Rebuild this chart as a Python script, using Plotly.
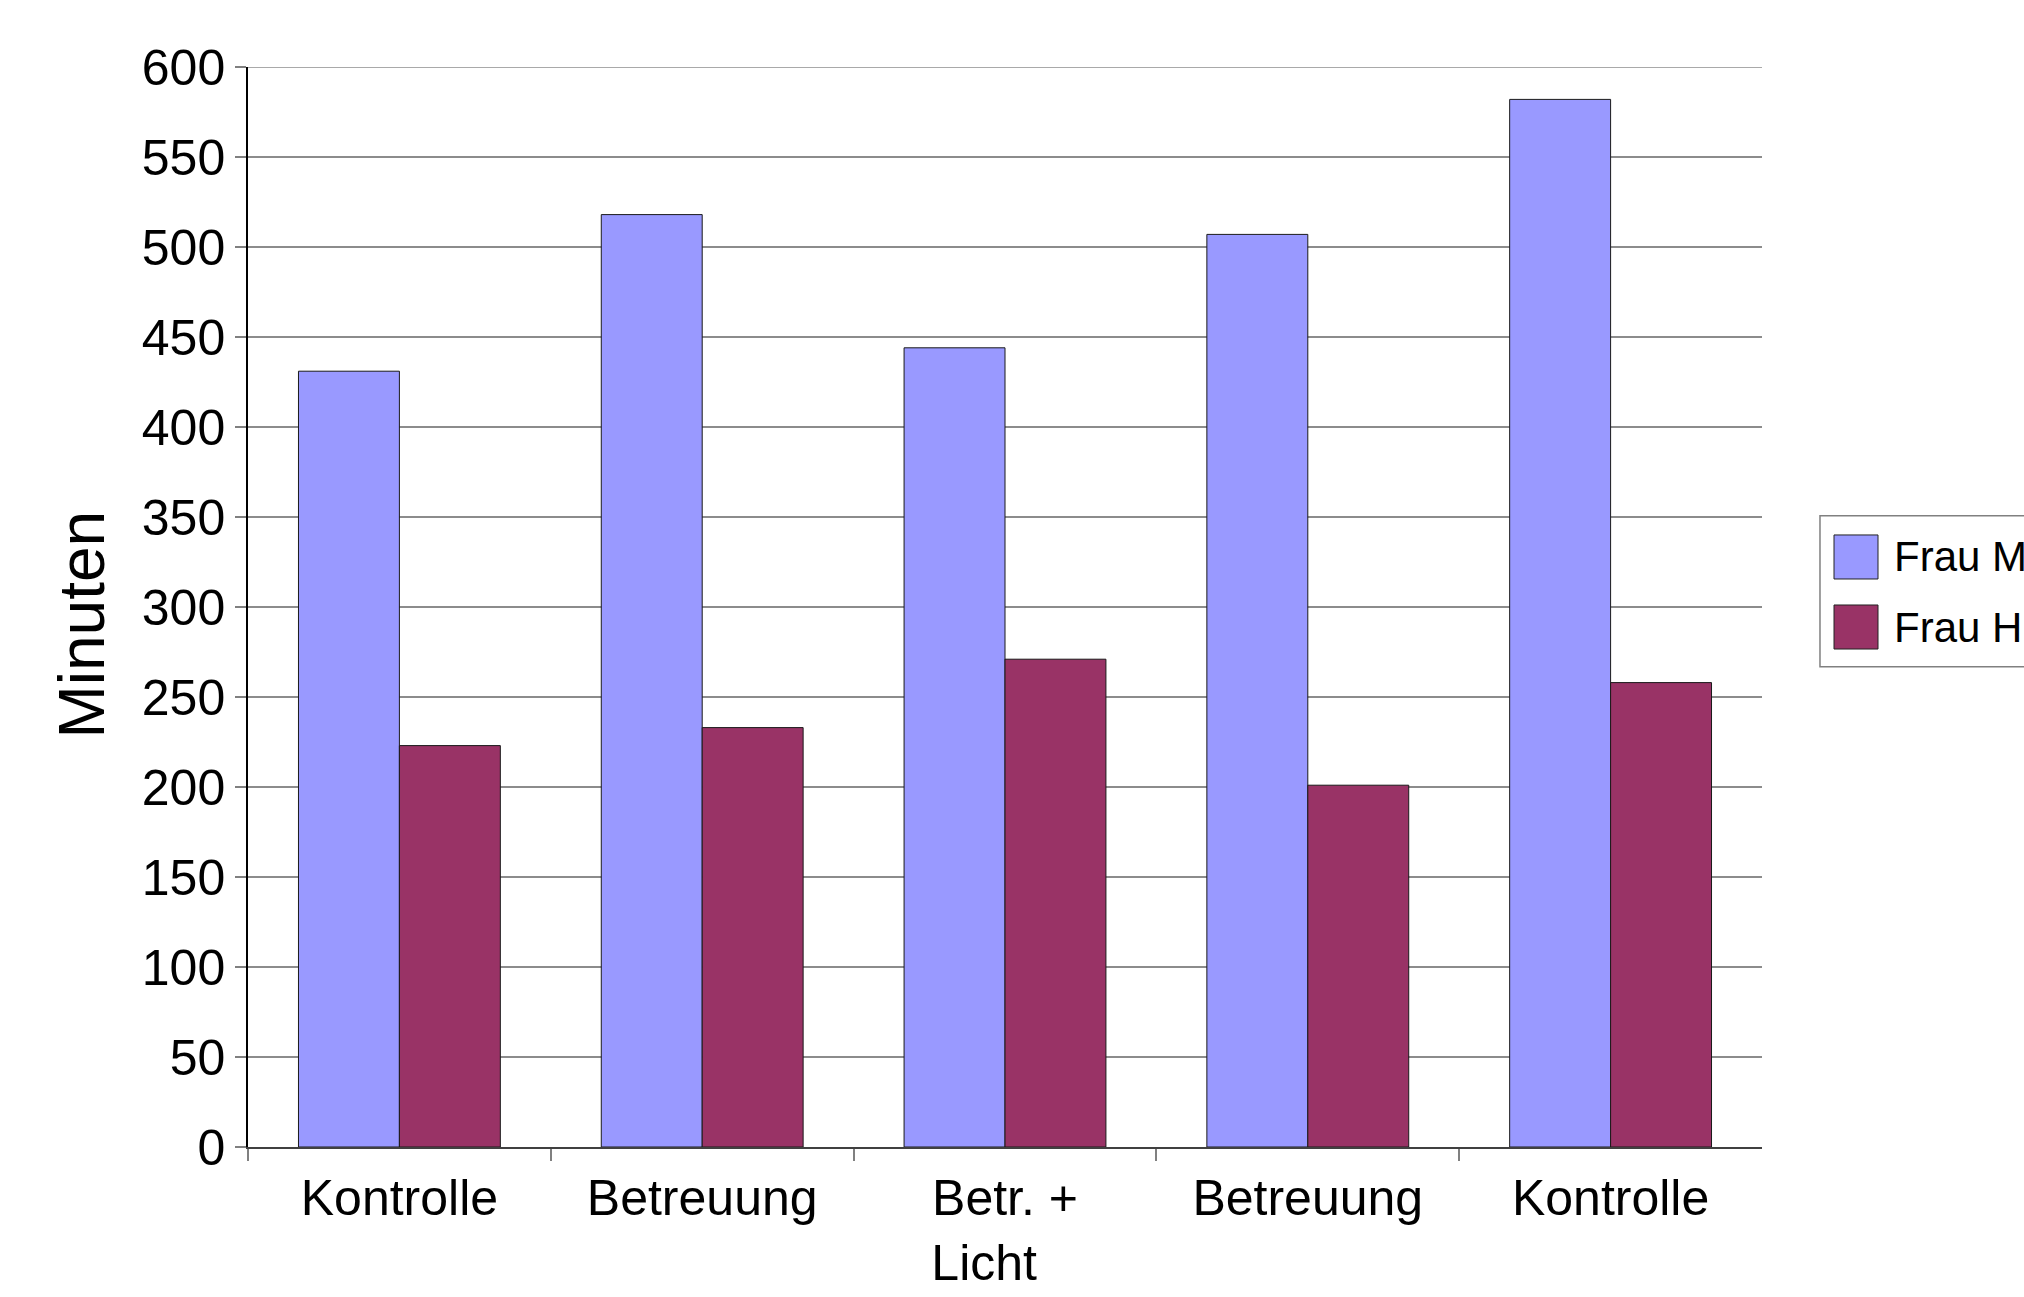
import plotly.graph_objects as go

categories = ["Kontrolle", "Betreuung", "Betr. +<br>Licht&nbsp;&nbsp;&nbsp;", "Betreuung", "Kontrolle"]
series_names = ["Frau M.", "Frau H."]
frau_m = [431, 518, 444, 507, 582]
frau_h = [223, 233, 271, 201, 258]
y_ticks = [0, 50, 100, 150, 200, 250, 300, 350, 400, 450, 500, 550, 600]
colors = ["#9999FF", "#993366"]
y_title = "Minuten"

FONT = "Liberation Sans, Arial, Helvetica, sans-serif"

x_idx = list(range(len(categories)))
boundaries = [i - 0.5 for i in range(len(categories))]
y_max = y_ticks[-1]

fig = go.Figure()
for name, vals, col in zip(series_names, [frau_m, frau_h], colors):
    fig.add_trace(go.Bar(
        x=x_idx, y=vals, name=name,
        marker=dict(color=col, line=dict(color="#1a1a1a", width=1)),
        showlegend=False,
    ))

fig.update_layout(
    width=2024, height=1297,
    barmode="group", bargap=1/3, bargroupgap=0,
    paper_bgcolor="white", plot_bgcolor="white",
    margin=dict(l=248, r=262, t=67, b=150, autoexpand=False),
    font=dict(family=FONT, color="black", size=50),
)

fig.update_xaxes(
    tickmode="array", tickvals=x_idx, ticktext=categories,
    range=[-0.5, len(categories) - 0.5],
    showline=True, linecolor="#404040", linewidth=1.5,
    ticks="outside", ticklen=6, tickcolor="rgba(0,0,0,0)", tickwidth=1,
    minor=dict(tickmode="array", tickvals=boundaries, ticks="outside",
               ticklen=12, tickcolor="#808080", tickwidth=1.5, showgrid=False),
    tickfont=dict(size=50, family=FONT, color="black"),
    showgrid=False, zeroline=False,
)
fig.update_yaxes(
    range=[0, y_max], tickmode="array", tickvals=y_ticks,
    showline=True, linecolor="black", linewidth=1.5,
    ticks="outside", ticklen=11, tickcolor="#808080", tickwidth=1.5,
    tickfont=dict(size=50, family=FONT, color="black"),
    showgrid=True, gridcolor="#8c8c8c", gridwidth=1.5,
    zeroline=False,
)

# top gridline (plotly hides the grid line lying on the plot edge)
fig.add_shape(type="line", xref="paper", yref="y", x0=0, x1=1, y0=y_max, y1=y_max,
              line=dict(color="#8c8c8c", width=1.5), layer="below")

# Y axis title
fig.add_annotation(xref="paper", yref="paper",
                   x=(82 - 248) / 1514, y=(1146.7 - 624.5) / 1079.4,
                   xanchor="center", yanchor="middle", showarrow=False,
                   textangle=-90, text=y_title,
                   font=dict(size=64, family=FONT, color="black"))

# Legend box (partly outside the canvas, as in the reference)
fig.add_shape(type="rect", xref="paper", yref="paper",
              x0=1.0383, x1=1.3, y0=(1146.7 - 666.7) / 1079.4, y1=(1146.7 - 515.7) / 1079.4,
              line=dict(color="#808080", width=1.5), fillcolor="white")
row_centers = [557, 627]
for name, col, yc in zip(series_names, colors, row_centers):
    fig.add_shape(type="rect", xref="paper", yref="paper",
                  x0=(1834 - 248) / 1514, x1=(1878 - 248) / 1514,
                  y0=(1146.7 - (yc + 22)) / 1079.4, y1=(1146.7 - (yc - 22)) / 1079.4,
                  line=dict(color="#222222", width=1), fillcolor=col)
    fig.add_annotation(xref="paper", yref="paper",
                       x=(1892 - 248) / 1514, y=(1146.7 - yc) / 1079.4,
                       xanchor="left", yanchor="middle", showarrow=False,
                       text=name, font=dict(size=42, family=FONT, color="black"))

fig.write_html("out.html")
